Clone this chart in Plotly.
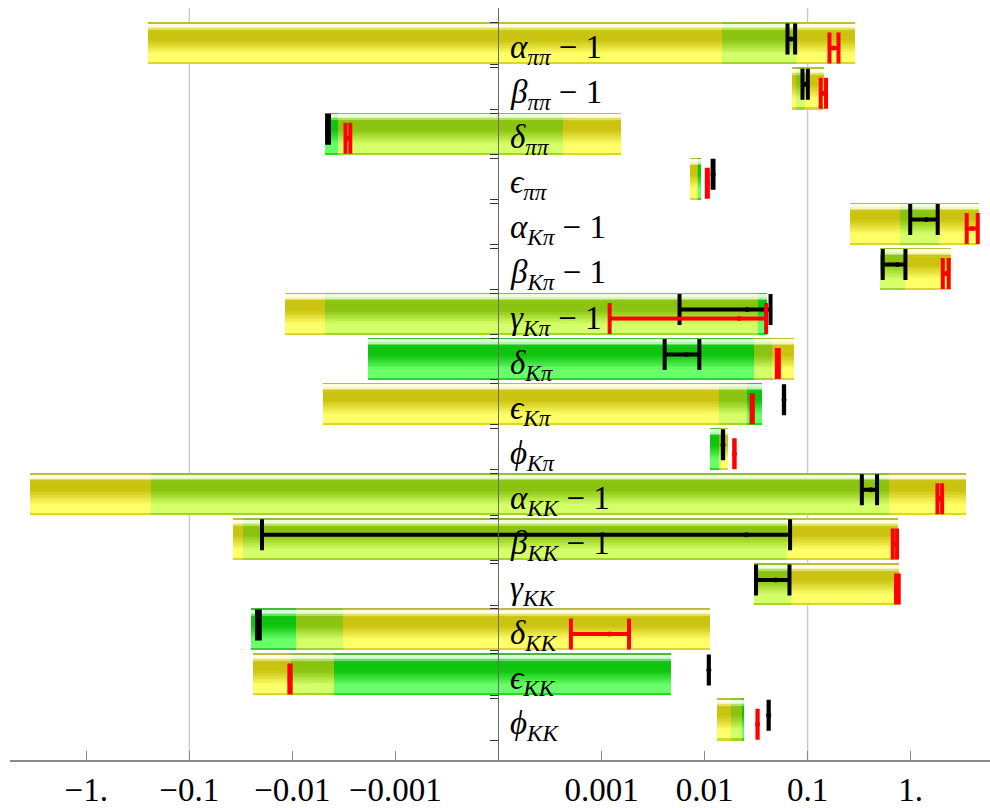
import numpy as np
import plotly.graph_objects as go

# ---- data -----------------------------------------------------------------
labels = [
    "<i>α</i><sub><i>ππ</i></sub> − 1",
    "<i>β</i><sub><i>ππ</i></sub> − 1",
    "<i>δ</i><sub><i>ππ</i></sub>",
    "<i>ϵ</i><sub><i>ππ</i></sub>",
    "<i>α</i><sub><i>Kπ</i></sub> − 1",
    "<i>β</i><sub><i>Kπ</i></sub> − 1",
    "<i>γ</i><sub><i>Kπ</i></sub> − 1",
    "<i>δ</i><sub><i>Kπ</i></sub>",
    "<i>ϵ</i><sub><i>Kπ</i></sub>",
    "<i>ϕ</i><sub><i>Kπ</i></sub>",
    "<i>α</i><sub><i>KK</i></sub> − 1",
    "<i>β</i><sub><i>KK</i></sub> − 1",
    "<i>γ</i><sub><i>KK</i></sub>",
    "<i>δ</i><sub><i>KK</i></sub>",
    "<i>ϵ</i><sub><i>KK</i></sub>",
    "<i>ϕ</i><sub><i>KK</i></sub>",
]

# outer (yellow) band
yellow_lo = [-0.25, 0.070, -0.0048, 0.0072, 0.26, 0.50, -0.0118, -0.00183,
             -0.0050, 0.01125, -3.5, -0.0373, 0.0303, -0.0252, -0.0242, 0.01325]
yellow_hi = [0.29, 0.144, 0.00154, 0.0092, 4.6, 2.49, 0.040, 0.0735,
             0.0357, 0.0169, 3.48, 0.755, 0.77, 0.01125, 0.0047, 0.0242]
# middle (light green) band
lgreen_lo = [0.0148, 0.077, -0.0048, 0.0084, 0.78, 0.50, -0.0048, -0.00183,
             0.0138, 0.01125, -0.235, -0.0299, 0.0303, -0.0252, -0.0103, 0.018]
lgreen_hi = [0.0763, 0.094, 0.00063, 0.0092, 1.9, 0.875, 0.040, 0.0447,
             0.0357, 0.0144, 0.614, 0.0638, 0.0687, -0.00324, 0.0047, 0.0242]
# inner (green) band
green_lo = [None, None, -0.0048, 0.0088, None, None, 0.0327, -0.00183,
            0.0259, 0.01125, None, None, None, -0.0252, -0.00392, 0.0229]
green_hi = [None, None, -0.0036, 0.0092, None, None, 0.040, 0.0301,
            0.0357, 0.0139, None, None, None, -0.0092, 0.0047, 0.0242]

# black estimates with ranges
black_val = [0.0695, 0.0946, -0.0045, 0.0121, 1.42, 0.74, 0.0259, 0.0067,
             0.059, 0.0151, 0.41, 0.0255, 0.0492, -0.0214, 0.011, 0.0419]
black_lo = [0.0638, 0.0892, -0.0046, 0.01197, 0.99, 0.536, 0.00572, 0.0041,
            0.0588, 0.01505, 0.336, -0.0197, 0.0316, -0.0220, 0.01098, 0.0418]
black_hi = [0.0757, 0.1005, -0.00441, 0.01222, 1.83, 0.89, 0.0437, 0.0089,
            0.0592, 0.01515, 0.472, 0.0676, 0.0667, -0.0207, 0.01102, 0.0420]

# red estimates with ranges
red_val = [0.180, 0.1427, -0.0029, 0.01065, 3.97, 2.22, 0.0217, 0.0514,
           0.0290, 0.0195, 1.91, 0.70, 0.745, 0.0012, -0.0105, 0.0327]
red_lo = [0.163, 0.134, -0.00305, 0.01052, 3.5, 2.05, 0.0012, 0.0503,
          0.0286, 0.0194, 1.82, 0.67, 0.721, 0.000703, -0.01069, 0.0326]
red_hi = [0.1995, 0.151, -0.00274, 0.01077, 4.48, 2.34, 0.0396, 0.0526,
          0.0294, 0.0196, 2.02, 0.738, 0.767, 0.00185, -0.01038, 0.0328]

tick_vals = [-1, -0.1, -0.01, -0.001, 0.001, 0.01, 0.1, 1]
tick_text = ["−1.", "−0.1", "−0.01", "−0.001", "0.001", "0.01", "0.1", "1."]

# ---- symmetric log scale ------------------------------------------------------
LINTHRESH = 1e-3


def symlog(v):
    v = np.array([np.nan if x is None else x for x in np.atleast_1d(v)], dtype=float)
    a = np.abs(v)
    with np.errstate(divide="ignore", invalid="ignore"):
        logpart = np.sign(v) * (1 + np.log10(a / LINTHRESH))
    return np.where(a <= LINTHRESH, v / LINTHRESH, logpart)


n = len(labels)
rows = np.arange(n)
BAR_H = 0.92
N_SLICE = 28
d = BAR_H / N_SLICE

X_RANGE = [-4.74, 4.77]
Y_RANGE = [15.895, -0.79]


def mix(c1, c2, t):
    return tuple(a + (b - a) * t for a, b in zip(c1, c2))


def shade(dark, bright, high, s):
    """Cylinder-like vertical shading; s = 0 at the top edge, 1 at the bottom."""
    if s < 0.03:
        c = mix(dark, (170, 170, 140), 0.35)
    elif s < 0.11:
        c = high
    elif s < 0.20:
        c = mix(high, dark, (s - 0.11) / 0.09)
    elif s < 0.42:
        c = dark
    elif s < 0.76:
        c = mix(dark, bright, (s - 0.42) / 0.34)
    elif s < 0.95:
        c = bright
    else:
        c = mix(dark, bright, 0.3)
    return "rgb(%d,%d,%d)" % tuple(int(round(x)) for x in c)


bands = [
    (yellow_lo, yellow_hi, (202, 196, 16), (255, 255, 104), (255, 255, 225)),
    (lgreen_lo, lgreen_hi, (138, 196, 16), (212, 255, 104), (238, 255, 215)),
    (green_lo, green_hi, (14, 196, 14), (104, 255, 104), (215, 255, 215)),
]

fig = go.Figure()

for lo, hi, dark, bright, high in bands:
    keep = [i for i in range(n) if lo[i] is not None]
    base = symlog([lo[i] for i in keep])
    span = symlog([hi[i] for i in keep]) - base
    for k in range(N_SLICE):
        s = (k + 0.5) / N_SLICE
        fig.add_trace(go.Bar(
            orientation="h",
            y=[rows[i] for i in keep],
            x=span,
            base=base,
            width=d * 1.08,
            offset=-BAR_H / 2 + k * d,
            marker=dict(color=shade(dark, bright, high, s), line=dict(width=0)),
            hoverinfo="skip",
            showlegend=False,
        ))

for val, lo, hi, col, dy in [
    (black_val, black_lo, black_hi, "black", -0.1),
    (red_val, red_lo, red_hi, "#ff0000", 0.1),
]:
    tv = symlog(val)
    fig.add_trace(go.Scatter(
        x=tv,
        y=rows + dy,
        mode="markers",
        marker=dict(color=col, size=5),
        error_x=dict(
            type="data",
            symmetric=False,
            array=symlog(hi) - tv,
            arrayminus=tv - symlog(lo),
            color=col,
            thickness=4,
            width=15.5,
        ),
        hoverinfo="skip",
        showlegend=False,
    ))

# row labels just right of the zero axis
for i, lab in enumerate(labels):
    fig.add_annotation(
        x=0, y=i, xref="x", yref="y",
        text=lab, showarrow=False,
        xanchor="left", yanchor="middle",
        xshift=10, yshift=-6,
        font=dict(family="Liberation Serif", size=33, color="black"),
    )

# light grid lines at ±0.1
for g in (-0.1, 0.1):
    gx = float(symlog(g)[0])
    fig.add_shape(type="line", xref="x", yref="paper", x0=gx, x1=gx, y0=0, y1=1,
                  line=dict(color="#c8c8c8", width=1.3), layer="below")

zero_pos = (0 - X_RANGE[0]) / (X_RANGE[1] - X_RANGE[0])
edge_ticks = sorted([i - BAR_H / 2 for i in rows] + [i + BAR_H / 2 for i in rows])

fig.update_layout(
    width=990, height=808,
    margin=dict(l=10, r=0, t=8, b=40),
    paper_bgcolor="white", plot_bgcolor="white",
    barmode="overlay",
    bargap=0,
    xaxis=dict(
        range=X_RANGE,
        tickvals=list(symlog(tick_vals)),
        ticktext=tick_text,
        ticks="inside", ticklen=9, tickwidth=1.3, tickcolor="#8a8a8a",
        showline=True, linecolor="#8a8a8a", linewidth=1.5,
        showgrid=False, zeroline=False,
        tickfont=dict(family="Liberation Serif", size=33, color="black"),
    ),
    yaxis=dict(
        range=Y_RANGE,
        anchor="free", position=zero_pos,
        showline=True, linecolor="#6a6a6a", linewidth=1.2,
        tickvals=edge_ticks, ticks="outside", ticklen=8, tickwidth=1.2,
        tickcolor="#333333",
        showticklabels=False, showgrid=False, zeroline=False,
    ),
)

fig.write_html("out.html")
